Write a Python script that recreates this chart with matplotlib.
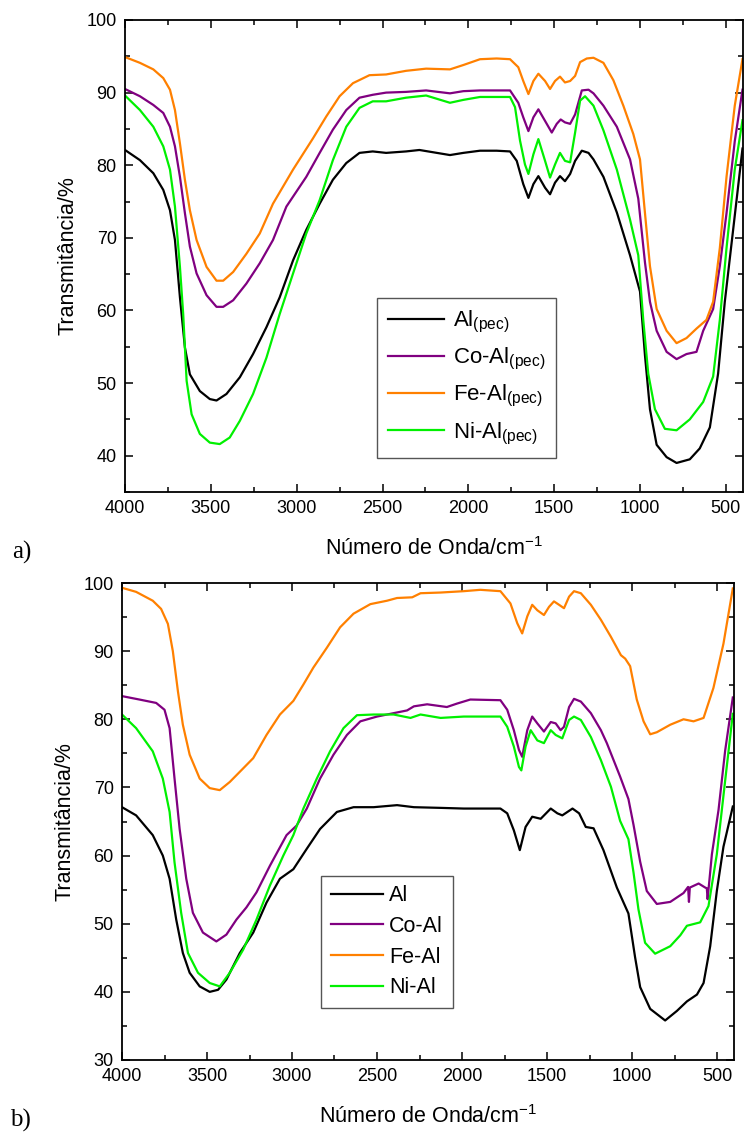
import matplotlib
matplotlib.use('Agg')
import matplotlib.pyplot as plt
from matplotlib.ticker import MultipleLocator

plt.rcParams['font.family'] = ['Liberation Sans', 'DejaVu Sans']
plt.rcParams['mathtext.fontset'] = 'custom'
plt.rcParams['mathtext.rm'] = 'Liberation Sans'
plt.rcParams['mathtext.it'] = 'Liberation Sans'
plt.rcParams['mathtext.default'] = 'regular'

# ---- panel a) pectin series ----
wn_a_al = [4000, 3913, 3835, 3777, 3738, 3709, 3680, 3651, 3622, 3564, 3506, 3467, 3409, 3331,
           3254, 3176, 3099, 3021, 2944, 2866, 2789, 2711, 2634, 2557, 2479, 2363, 2285, 2107,
           2029, 1932, 1835, 1757, 1718, 1680, 1650, 1621, 1592, 1553, 1524, 1495, 1466, 1437,
           1407, 1378, 1339, 1300, 1271, 1213, 1135, 1058, 1000, 971, 942, 903, 845, 787, 710,
           652, 593, 545, 506, 458, 403]
t_a_al = [82.1, 80.7, 78.9, 76.6, 73.8, 69.7, 61.8, 54.9, 51.2, 48.9, 47.8, 47.6, 48.5, 50.8,
          54.0, 57.7, 61.8, 66.9, 71.1, 74.7, 78.0, 80.3, 81.7, 81.9, 81.7, 81.9, 82.1, 81.4,
          81.7, 82.0, 82.0, 81.9, 80.6, 77.4, 75.5, 77.4, 78.5, 76.9, 76.0, 77.6, 78.5, 77.8,
          78.8, 80.6, 82.0, 81.7, 80.8, 78.4, 73.5, 67.6, 62.6, 53.8, 46.4, 41.5, 39.8, 39.0, 39.5,
          41.0, 43.9, 51.3, 61.2, 71.0, 82.3]

wn_a_co = [4000, 3913, 3835, 3777, 3738, 3709, 3680, 3651, 3622, 3583, 3525, 3467, 3428, 3370,
           3293, 3215, 3138, 3060, 2944, 2866, 2789, 2711, 2634, 2557, 2479, 2363, 2246, 2107,
           2029, 1932, 1835, 1757, 1709, 1680, 1650, 1621, 1592, 1553, 1514, 1485, 1462, 1437,
           1407, 1378, 1339, 1300, 1271, 1213, 1135, 1058, 1010, 971, 942, 903, 845, 787, 729,
           671, 632, 574, 535, 496, 448, 403]
t_a_co = [90.5, 89.5, 88.3, 87.2, 85.3, 82.6, 78.4, 73.4, 68.8, 65.1, 62.1, 60.5, 60.5, 61.4,
          63.7, 66.5, 69.7, 74.3, 78.4, 81.7, 84.9, 87.6, 89.3, 89.7, 90.0, 90.1, 90.3, 89.9,
          90.2, 90.3, 90.3, 90.3, 88.6, 86.6, 84.7, 86.6, 87.7, 86.1, 84.5, 85.7, 86.3, 85.9,
          85.7, 87.0, 90.3, 90.4, 89.9, 88.2, 85.3, 80.8, 75.4, 66.6, 61.2, 57.2, 54.3, 53.3, 54.0,
          54.3, 57.2, 60.2, 66.1, 73.4, 83.3, 90.4]

wn_a_fe = [4000, 3913, 3835, 3777, 3738, 3709, 3680, 3651, 3622, 3583, 3525, 3467, 3428, 3370,
           3293, 3215, 3138, 3021, 2905, 2828, 2750, 2672, 2576, 2479, 2363, 2246, 2107, 2029,
           1932, 1835, 1757, 1709, 1680, 1650, 1621, 1592, 1553, 1524, 1495, 1466, 1437, 1407,
           1378, 1349, 1310, 1271, 1213, 1155, 1097, 1039, 1000, 971, 942, 903, 845, 787, 729,
           671, 613, 574, 535, 496, 448, 403]
t_a_fe = [94.9, 94.1, 93.2, 92.0, 90.4, 87.6, 83.0, 78.0, 73.8, 69.7, 66.0, 64.1, 64.1, 65.3,
          67.8, 70.6, 74.7, 79.4, 83.7, 86.7, 89.5, 91.3, 92.4, 92.5, 93.0, 93.3, 93.2, 93.8,
          94.6, 94.7, 94.6, 93.5, 91.6, 89.8, 91.6, 92.6, 91.6, 90.5, 91.6, 92.2, 91.4, 91.6,
          92.3, 94.2, 94.7, 94.8, 94.1, 91.7, 88.2, 84.3, 80.8, 73.4, 66.1, 60.2, 57.2, 55.5, 56.2,
          57.5, 58.7, 61.2, 68.6, 78.4, 88.2, 94.6]

wn_a_ni = [4000, 3913, 3835, 3777, 3738, 3709, 3680, 3661, 3641, 3612, 3564, 3506, 3448, 3390,
           3331, 3254, 3176, 3099, 3021, 2944, 2866, 2789, 2711, 2634, 2557, 2479, 2363, 2246,
           2107, 2029, 1932, 1835, 1757, 1728, 1699, 1670, 1650, 1621, 1592, 1553, 1524, 1495,
           1466, 1437, 1407, 1378, 1349, 1320, 1271, 1213, 1135, 1058, 1010, 981, 952, 913, 855,
           787, 710, 632, 574, 535, 496, 448, 403]
t_a_ni = [89.6, 87.6, 85.3, 82.6, 79.4, 74.3, 66.0, 59.5, 50.3, 45.7, 43.0, 41.8, 41.6, 42.5,
          44.8, 48.5, 53.5, 59.5, 65.1, 70.6, 75.2, 80.7, 85.3, 87.9, 88.8, 88.8, 89.3, 89.6,
          88.6, 89.0, 89.4, 89.4, 89.4, 88.0, 83.4, 80.1, 78.8, 81.5, 83.6, 80.6, 78.3, 80.1,
          81.7, 80.6, 80.4, 84.5, 88.9, 89.5, 88.2, 84.8, 79.4, 72.5, 67.6, 58.7, 51.3, 46.4, 43.7,
          43.5, 45.0, 47.4, 50.9, 58.7, 68.6, 79.4, 86.2]

# ---- panel b) series ----
wn_b_al = [4000, 3917, 3819, 3760, 3720, 3681, 3642, 3602, 3543, 3484, 3435, 3386, 3307, 3228,
           3150, 3071, 2992, 2913, 2835, 2736, 2638, 2520, 2382, 2283, 2126, 1990, 1774, 1734,
           1695, 1660, 1626, 1587, 1537, 1478, 1439, 1410, 1350, 1311, 1272, 1226, 1168, 1089,
           1021, 982, 952, 893, 805, 736, 677, 618, 579, 540, 501, 462, 407]
t_b_al = [67.1, 65.9, 63.0, 60.0, 56.6, 50.6, 45.7, 42.8, 40.8, 40.0, 40.3, 41.8, 45.7, 48.7,
          53.1, 56.6, 58.0, 61.0, 63.9, 66.4, 67.1, 67.1, 67.4, 67.1, 67.0, 66.9, 66.9, 66.2,
          63.7, 60.8, 64.2, 65.7, 65.4, 66.9, 66.2, 65.9, 66.9, 66.2, 64.2, 64.0, 60.8, 55.3,
          51.5, 45.1, 40.7, 37.5, 35.8, 37.2, 38.6, 39.6, 41.3, 46.7, 54.8, 61.3, 67.2]

wn_b_co = [4000, 3898, 3799, 3750, 3720, 3691, 3661, 3622, 3583, 3524, 3445, 3386, 3327, 3268,
           3209, 3130, 3032, 2973, 2913, 2835, 2756, 2677, 2598, 2500, 2402, 2323, 2283, 2205,
           2089, 2030, 1951, 1774, 1734, 1695, 1665, 1646, 1616, 1587, 1557, 1518, 1478, 1449,
           1420, 1400, 1370, 1341, 1301, 1242, 1183, 1148, 1070, 1021, 991, 952, 913, 854, 775,
           697, 670, 665, 660, 608, 569, 560, 555, 550, 530, 491, 452, 407]
t_b_co = [83.4, 82.9, 82.4, 81.4, 78.7, 71.3, 63.9, 56.6, 51.6, 48.7, 47.4, 48.4, 50.6, 52.4,
          54.6, 58.5, 63.0, 64.4, 66.9, 71.3, 74.8, 77.7, 79.7, 80.4, 80.9, 81.3, 81.9, 82.2,
          81.8, 82.3, 82.9, 82.8, 81.4, 78.4, 75.5, 74.5, 78.4, 80.4, 79.4, 78.2, 79.6, 79.4,
          78.4, 78.9, 81.8, 83.0, 82.6, 80.9, 78.4, 76.5, 71.6, 68.3, 64.5, 59.1, 54.8, 52.9, 53.2,
          54.5, 55.4, 53.2, 55.3, 55.9, 55.3, 55.2, 53.6, 55.0, 60.2, 66.7, 75.4, 83.2]

wn_b_fe = [4000, 3917, 3819, 3770, 3730, 3701, 3671, 3642, 3602, 3543, 3484, 3425, 3366, 3287,
           3228, 3150, 3071, 2992, 2933, 2874, 2795, 2717, 2638, 2539, 2441, 2382, 2293, 2244,
           2126, 1990, 1892, 1774, 1715, 1675, 1646, 1616, 1587, 1557, 1518, 1488, 1459, 1429,
           1400, 1370, 1341, 1301, 1242, 1183, 1124, 1065, 1040, 1011, 972, 932, 893, 854, 775,
           697, 638, 579, 521, 462, 407]
t_b_fe = [99.3, 98.7, 97.4, 96.2, 94.0, 90.0, 84.1, 79.2, 74.8, 71.3, 69.9, 69.6, 70.8, 72.8,
          74.3, 77.7, 80.7, 82.7, 85.1, 87.6, 90.5, 93.5, 95.5, 96.9, 97.4, 97.8, 97.9, 98.5,
          98.6, 98.8, 99.0, 98.8, 97.0, 94.1, 92.6, 95.1, 96.8, 96.0, 95.3, 96.5, 97.3, 96.8,
          96.3, 98.0, 98.8, 98.5, 96.8, 94.6, 92.1, 89.4, 88.9, 87.8, 82.9, 79.7, 77.8, 78.1, 79.2,
          80.0, 79.7, 80.2, 84.6, 91.1, 99.2]

wn_b_ni = [4000, 3917, 3819, 3760, 3720, 3691, 3652, 3612, 3553, 3484, 3425, 3366, 3287, 3209,
           3130, 3051, 2992, 2933, 2854, 2776, 2697, 2618, 2520, 2402, 2303, 2244, 2126, 1990,
           1892, 1774, 1734, 1695, 1665, 1651, 1626, 1596, 1557, 1518, 1478, 1449, 1410, 1370,
           1341, 1301, 1242, 1183, 1124, 1070, 1021, 991, 962, 923, 864, 775, 716, 677, 599, 550,
           501, 452, 407]
t_b_ni = [80.7, 78.7, 75.3, 71.3, 66.4, 59.0, 51.6, 45.7, 42.8, 41.3, 40.8, 42.8, 46.2, 50.6,
          55.6, 60.0, 63.0, 66.9, 71.3, 75.3, 78.7, 80.6, 80.7, 80.7, 80.2, 80.7, 80.2, 80.4,
          80.4, 80.4, 78.9, 76.0, 73.0, 72.5, 76.0, 78.4, 76.9, 76.5, 78.4, 77.7, 77.2, 79.9,
          80.4, 79.9, 77.4, 74.0, 70.1, 65.1, 62.4, 57.5, 52.1, 47.2, 45.6, 46.7, 48.3, 49.7, 50.2,
          52.6, 60.2, 71.0, 80.8]

labels_a = ['Al$_{(pec)}$', 'Co-Al$_{(pec)}$', 'Fe-Al$_{(pec)}$', 'Ni-Al$_{(pec)}$']
labels_b = ['Al', 'Co-Al', 'Fe-Al', 'Ni-Al']
colors = ['#000000', '#800080', '#FF8000', '#00F000']


def style_axes(ax, ymin, ymax):
    ax.set_xlim(4000, 400)
    ax.set_ylim(ymin, ymax)
    ax.xaxis.set_major_locator(MultipleLocator(500))
    ax.xaxis.set_minor_locator(MultipleLocator(250))
    ax.yaxis.set_major_locator(MultipleLocator(10))
    ax.yaxis.set_minor_locator(MultipleLocator(5))
    ax.tick_params(which='both', direction='in', top=True, right=True, width=1.1)
    ax.tick_params(which='major', length=6, labelsize=13, pad=6)
    ax.tick_params(which='minor', length=3.5)
    for sp in ax.spines.values():
        sp.set_linewidth(1.3)
    ax.set_xlabel('Número de Onda/cm$^{-1}$', fontsize=15.5, labelpad=14)
    ax.set_ylabel('Transmitância/%', fontsize=15.5, labelpad=6)


fig = plt.figure(figsize=(7.44, 11.38), dpi=100)

ax_a = fig.add_axes([125 / 744, 1 - 492 / 1138, 618 / 744, 472 / 1138])
series_a = [(wn_a_al, t_a_al), (wn_a_co, t_a_co), (wn_a_fe, t_a_fe), (wn_a_ni, t_a_ni)]
for (wn, t), lab, c in zip(series_a, labels_a, colors):
    ax_a.plot(wn, t, color=c, lw=1.6, label=lab)
style_axes(ax_a, 35, 100)
ax_a.set_yticks([40, 50, 60, 70, 80, 90, 100])
ax_a.legend(loc='upper left', bbox_to_anchor=(0.39, 0.435), fontsize=16, frameon=True,
            fancybox=False, edgecolor='#555555', framealpha=1, handlelength=2.5,
            handletextpad=0.4, labelspacing=0.5, borderpad=0.5)

ax_b = fig.add_axes([122 / 744, 1 - 1060 / 1138, 612 / 744, 477 / 1138])
series_b = [(wn_b_al, t_b_al), (wn_b_co, t_b_co), (wn_b_fe, t_b_fe), (wn_b_ni, t_b_ni)]
for (wn, t), lab, c in zip(series_b, labels_b, colors):
    ax_b.plot(wn, t, color=c, lw=1.6, label=lab)
style_axes(ax_b, 30, 100)
ax_b.legend(loc='upper left', bbox_to_anchor=(0.315, 0.4), fontsize=15.5, frameon=True,
            fancybox=False, edgecolor='#555555', framealpha=1, handlelength=2.4,
            handletextpad=0.3, labelspacing=0.45, borderpad=0.45, borderaxespad=0.3)

fig.text(12 / 744, 1 - 552 / 1138, 'a)', fontsize=18, family='Liberation Serif', va='center')
fig.text(10 / 744, 1 - 1120 / 1138, 'b)', fontsize=18, family='Liberation Serif', va='center')

fig.savefig('out.png', dpi=100)
